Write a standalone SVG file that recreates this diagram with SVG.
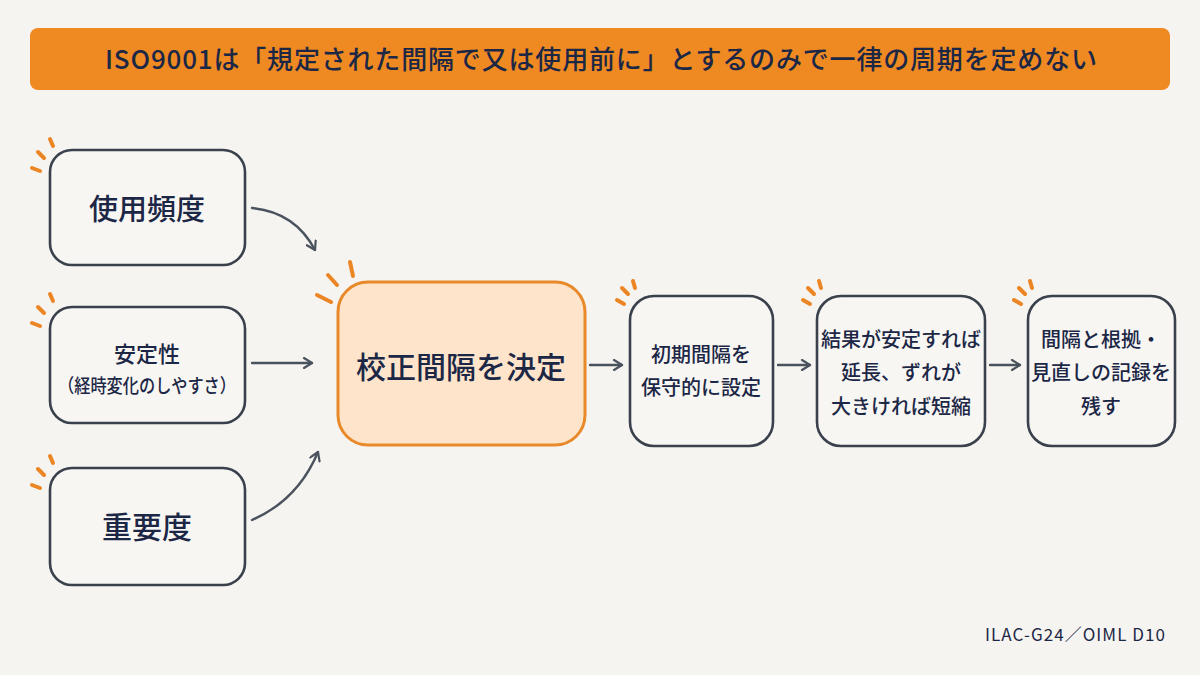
<svg xmlns="http://www.w3.org/2000/svg" width="1200" height="675" viewBox="0 0 1200 675">
<defs>
<style>
.t{font-family:"Noto Sans CJK JP","Noto Sans",sans-serif;fill:#1c2746;text-anchor:middle;font-weight:500}
.box{fill:#f7f6f3;stroke:#3a414c;stroke-width:2.6}
.tick{stroke:#ec8625;stroke-width:4;stroke-linecap:round;fill:none}
.con{fill:none;stroke:#4a525e;stroke-width:2.4;stroke-linecap:round;marker-end:url(#ah)}
</style>
<marker id="ah" viewBox="0 0 12 12" refX="10" refY="6" markerWidth="12" markerHeight="12" markerUnits="userSpaceOnUse" orient="auto">
<path d="M2,1 L10,6 L2,11" fill="none" stroke="#4a525e" stroke-width="2.2" stroke-linecap="round" stroke-linejoin="round"/>
</marker>
</defs>
<rect width="1200" height="675" fill="#f5f4f1"/>
<g id="title">
<rect x="30" y="28" width="1140" height="62" rx="8" fill="#ef8a22"/>
<text class="t" x="601" y="69" font-size="26" font-weight="600" textLength="992" lengthAdjust="spacing">ISO9001は「規定された間隔で又は使用前に」とするのみで一律の周期を定めない</text>
</g>
<g id="n-freq">
<rect class="box" x="50" y="150" width="195" height="115" rx="22"/>
<path class="tick" d="M32,168 L40,171 M38,152 L44,158 M50,139 L53,146"/>
<text class="t" x="147" y="220" font-size="29">使用頻度</text>
</g>
<g id="n-stab">
<rect class="box" x="50" y="307" width="195" height="116" rx="22"/>
<path class="tick" d="M32,323 L40,326 M38,307 L44,313 M50,294 L53,301"/>
<text class="t" x="147" y="362" font-size="22">安定性</text>
<text class="t" x="147" y="393" font-size="19" textLength="178" lengthAdjust="spacingAndGlyphs">（経時変化のしやすさ）</text>
</g>
<g id="n-imp">
<rect class="box" x="50" y="468" width="195" height="117" rx="22"/>
<path class="tick" d="M32,485 L40,488 M38,469 L44,475 M50,456 L53,463"/>
<text class="t" x="147" y="538" font-size="30">重要度</text>
</g>
<g id="n-decide">
<rect x="338" y="282" width="247" height="163" rx="30" fill="#fde4ca" stroke="#e8892a" stroke-width="3"/>
<path class="tick" d="M317,295 L331,302 M328,275 L337,285 M350,262 L353,276"/>
<text class="t" x="461" y="378" font-size="30">校正間隔を決定</text>
</g>
<g id="n-init">
<rect class="box" x="630" y="296" width="143" height="150" rx="24"/>
<path class="tick" d="M617,300 L624,304 M622,288 L628,294 M633,281 L635,288"/>
<text class="t" x="701" y="362" font-size="20">初期間隔を</text>
<text class="t" x="701" y="395" font-size="20">保守的に設定</text>
</g>
<g id="n-adjust">
<rect class="box" x="817" y="296" width="168" height="150" rx="24"/>
<path class="tick" d="M803,300 L810,304 M808,288 L814,294 M819,281 L821,288"/>
<text class="t" x="901" y="347" font-size="20">結果が安定すれば</text>
<text class="t" x="901" y="380" font-size="20">延長、ずれが</text>
<text class="t" x="901" y="414" font-size="20">大きければ短縮</text>
</g>
<g id="n-record">
<rect class="box" x="1028" y="296" width="147" height="150" rx="24"/>
<path class="tick" d="M1014,300 L1021,304 M1019,288 L1025,294 M1030,281 L1032,288"/>
<text class="t" x="1101" y="347" font-size="20">間隔と根拠・</text>
<text class="t" x="1101" y="380" font-size="20">見直しの記録を</text>
<text class="t" x="1101" y="414" font-size="20">残す</text>
</g>
<g id="connectors">
<path class="con" d="M252,208 Q295,212 315,250"/>
<path class="con" d="M252,363 L312,363"/>
<path class="con" d="M252,520 Q298,500 318,452"/>
<path class="con" d="M590,365 L622,365"/>
<path class="con" d="M778,365 L810,365"/>
<path class="con" d="M990,365 L1020,365"/>
</g>
<text class="t" x="1165" y="641" font-size="17" font-weight="400" style="text-anchor:end;font-weight:400" textLength="180" lengthAdjust="spacing" fill="#2a3350">ILAC-G24／OIML D10</text>
</svg>
